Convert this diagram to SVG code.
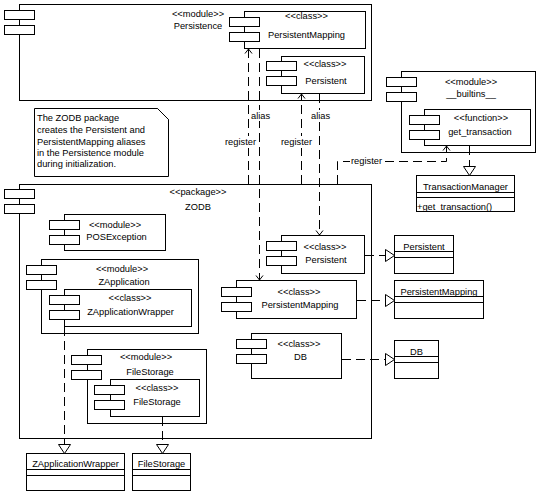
<svg xmlns="http://www.w3.org/2000/svg" width="544" height="499" viewBox="0 0 544 499">
<style>
.s{fill:#fff;stroke:#000;stroke-width:1}
.n{fill:none;stroke:#000;stroke-width:1}
.d{fill:none;stroke:#000;stroke-width:1;stroke-dasharray:9,5}
.t{font-family:"Liberation Sans",Arial,sans-serif;font-size:9.3px;fill:#000}
.c{text-anchor:middle}
.bg{fill:#fff;stroke:none}
</style>
<defs>
<g id="tabs"><rect class="s" x="0" y="0" width="30" height="9"/><rect class="s" x="0" y="15" width="30" height="9"/></g>
</defs>
<rect x="0" y="0" width="544" height="499" fill="#fff"/>

<g id="Persistence">
<rect class="s" x="19.5" y="4.5" width="352" height="96"/>
<use href="#tabs" x="4.5" y="10.5"/>
<text class="t c" x="198" y="16.5">&lt;&lt;module&gt;&gt;</text>
<text class="t c" x="198" y="28.5">Persistence</text>
<g id="Persistence.PersistentMapping">
<rect class="s" x="244.5" y="11.5" width="121" height="37"/>
<use href="#tabs" x="229.5" y="17.5"/>
<text class="t c" x="306.5" y="18.5">&lt;&lt;class&gt;&gt;</text>
<text class="t c" x="306.5" y="38">PersistentMapping</text>
</g>
<g id="Persistence.Persistent">
<rect class="s" x="281.5" y="56.5" width="83" height="37"/>
<use href="#tabs" x="266.5" y="61.5"/>
<text class="t c" x="325" y="67">&lt;&lt;class&gt;&gt;</text>
<text class="t c" x="326" y="83.5">Persistent</text>
</g>
</g>

<g id="builtins">
<rect class="s" x="401.5" y="71.5" width="134" height="81"/>
<use href="#tabs" x="386.5" y="77.5"/>
<text class="t c" x="471" y="85">&lt;&lt;module&gt;&gt;</text>
<text class="t c" x="471" y="97">__builtins__</text>
<g id="get_transaction">
<rect class="s" x="424.5" y="109.5" width="106" height="36"/>
<use href="#tabs" x="409.5" y="115.5"/>
<text class="t c" x="481" y="121">&lt;&lt;function&gt;&gt;</text>
<text class="t c" x="480" y="134.5">get_transaction</text>
</g>
</g>

<g id="TransactionManager">
<rect class="s" x="416.5" y="175.5" width="98" height="36"/>
<path class="n" d="M416.5,192.5H514.5M416.5,197.5H514.5"/>
<text class="t c" x="465.5" y="189.5">TransactionManager</text>
<text class="t" x="417" y="209.5">+get_transaction()</text>
</g>

<g id="note">
<path class="s" d="M34.5,108.5H157.5L168.5,119.5V176.5H34.5Z"/>
<path class="n" d="M157.5,108.5L168.5,119.5"/>
<text class="t" x="37" y="121">The ZODB package</text>
<text class="t" x="37" y="133">creates the Persistent and</text>
<text class="t" x="37" y="144.5">PersistentMapping aliases</text>
<text class="t" x="37" y="156">in the Persistence module</text>
<text class="t" x="37" y="167">during initialization.</text>
</g>

<g id="ZODB">
<rect class="s" x="19.5" y="184.5" width="352" height="254"/>
<use href="#tabs" x="4.5" y="189.5"/>
<text class="t c" x="198" y="195">&lt;&lt;package&gt;&gt;</text>
<text class="t c" x="198" y="210">ZODB</text>
<g id="POSException">
<rect class="s" x="64.5" y="214.5" width="101" height="36"/>
<use href="#tabs" x="49.5" y="220.5"/>
<text class="t c" x="115" y="227.5">&lt;&lt;module&gt;&gt;</text>
<text class="t c" x="116.5" y="239.5">POSException</text>
</g>
<g id="ZApplication">
<rect class="s" x="41.5" y="259.5" width="157" height="74"/>
<use href="#tabs" x="26.5" y="265.5"/>
<text class="t c" x="122" y="272">&lt;&lt;module&gt;&gt;</text>
<text class="t c" x="124" y="284.5">ZApplication</text>
<g id="ZApplication.ZApplicationWrapper">
<rect class="s" x="64.5" y="289.5" width="127" height="37"/>
<use href="#tabs" x="49.5" y="295.5"/>
<text class="t c" x="130" y="301">&lt;&lt;class&gt;&gt;</text>
<text class="t c" x="130.5" y="314.5">ZApplicationWrapper</text>
</g>
</g>
<g id="FileStorageModule">
<rect class="s" x="87.5" y="349.5" width="119" height="74"/>
<use href="#tabs" x="71.5" y="355.5"/>
<text class="t c" x="146" y="360">&lt;&lt;module&gt;&gt;</text>
<text class="t c" x="150" y="374.5">FileStorage</text>
<g id="FileStorage.FileStorage">
<rect class="s" x="110.5" y="379.5" width="89" height="37"/>
<use href="#tabs" x="94.5" y="385.5"/>
<text class="t c" x="157" y="391">&lt;&lt;class&gt;&gt;</text>
<text class="t c" x="157" y="404.5">FileStorage</text>
</g>
</g>
<g id="ZODB.Persistent">
<rect class="s" x="281.5" y="235.5" width="83" height="38"/>
<use href="#tabs" x="266.5" y="241.5"/>
<text class="t c" x="325" y="249.5">&lt;&lt;class&gt;&gt;</text>
<text class="t c" x="326" y="262.5">Persistent</text>
</g>
<g id="ZODB.PersistentMapping">
<rect class="s" x="236.5" y="280.5" width="120" height="38"/>
<use href="#tabs" x="221.5" y="287.5"/>
<text class="t c" x="299" y="294.5">&lt;&lt;class&gt;&gt;</text>
<text class="t c" x="300" y="307.5">PersistentMapping</text>
</g>
<g id="ZODB.DB">
<rect class="s" x="251.5" y="333.5" width="90" height="45"/>
<use href="#tabs" x="236.5" y="339.5"/>
<text class="t c" x="299" y="346.5">&lt;&lt;class&gt;&gt;</text>
<text class="t c" x="300.5" y="359.5">DB</text>
</g>
</g>

<g id="PersistentBox">
<rect class="s" x="394.5" y="235.5" width="59" height="38"/>
<path class="n" d="M394.5,251.5H453.5M394.5,257.5H453.5"/>
<text class="t c" x="424" y="249.5">Persistent</text>
</g>
<g id="PersistentMappingBox">
<rect class="s" x="394.5" y="280.5" width="89" height="38"/>
<path class="n" d="M394.5,296.5H483.5M394.5,302.5H483.5"/>
<text class="t c" x="439" y="294.5">PersistentMapping</text>
</g>
<g id="DBBox">
<rect class="s" x="394.5" y="340.5" width="44" height="38"/>
<path class="n" d="M394.5,356.5H438.5M394.5,362.5H438.5"/>
<text class="t c" x="416.5" y="354.5">DB</text>
</g>
<g id="ZApplicationWrapperBox">
<rect class="s" x="26.5" y="453.5" width="98" height="37"/>
<path class="n" d="M26.5,469.5H124.5M26.5,475.5H124.5"/>
<text class="t c" x="75.5" y="466.5">ZApplicationWrapper</text>
</g>
<g id="FileStorageBox">
<rect class="s" x="132.5" y="453.5" width="58" height="37"/>
<path class="n" d="M132.5,469.5H190.5M132.5,475.5H190.5"/>
<text class="t c" x="161.5" y="466.5">FileStorage</text>
</g>

<g id="connectors">
<path class="d" d="M248.5,184V49"/>
<path class="n" d="M245,53.5L248.5,49L252,53.5"/>
<path class="d" d="M259.5,49V280"/>
<path class="n" d="M256,275.5L259.5,280L263,275.5"/>
<path class="d" d="M301.5,184V94"/>
<path class="n" d="M298,98.5L301.5,94L305,98.5"/>
<path class="d" d="M319.5,94V235"/>
<path class="n" d="M316,230.5L319.5,235L323,230.5"/>
<path class="d" d="M337.5,184V161.5H446.5V146"/>
<path class="n" d="M443,150.5L446.5,146L450,150.5"/>
<path class="d" d="M469.5,146V166.5"/>
<path class="s" d="M463.5,166.5H475.5L469.5,175.5Z"/>
<path class="d" d="M365,255.5H385.5"/>
<path class="s" d="M385.5,249.5V261.5L394.5,255.5Z"/>
<path class="d" d="M357,300.5H385.5"/>
<path class="s" d="M385.5,294.5V306.5L394.5,300.5Z"/>
<path class="d" d="M342,359.5H385.5"/>
<path class="s" d="M385.5,353.5V365.5L394.5,359.5Z"/>
<path class="d" d="M64.5,327V444.5"/>
<path class="s" d="M58.5,444.5H70.5L64.5,453.5Z"/>
<path class="d" d="M162.5,417V444.5"/>
<path class="s" d="M156.5,444.5H168.5L162.5,453.5Z"/>
<rect class="bg" x="250" y="110" width="21" height="11"/>
<text class="t" x="251" y="118.5">alias</text>
<rect class="bg" x="310" y="110" width="21" height="11"/>
<text class="t" x="311" y="118.5">alias</text>
<rect class="bg" x="224" y="136" width="33" height="12"/>
<text class="t" x="225" y="144.5">register</text>
<rect class="bg" x="280" y="136" width="33" height="12"/>
<text class="t" x="281" y="144.5">register</text>
<rect class="bg" x="350" y="155" width="34" height="12"/>
<text class="t" x="351" y="163.5">register</text>
</g>
</svg>
